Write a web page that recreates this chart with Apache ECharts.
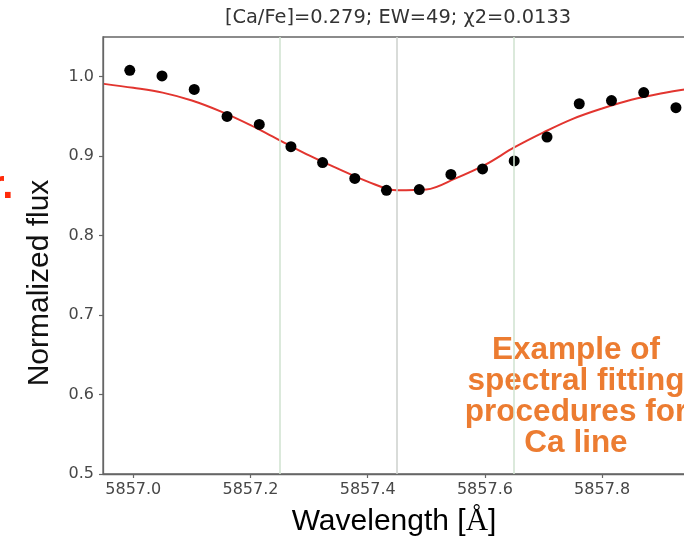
<!DOCTYPE html>
<html>
<head>
<meta charset="utf-8">
<script src="https://cdn.jsdelivr.net/npm/echarts@6/dist/echarts.min.js"></script>
<style>
  html, body { margin: 0; padding: 0; background: #ffffff; overflow: hidden; }
  /* the plot frame runs slightly past the right edge of the page */
  #chart { width: 694px; height: 548px; }
</style>
</head>
<body>
<div id="chart"></div>
<script>
// Observed spectrum around the Ca I 5857.45 Å line
const wavelengths = [
  5856.994, 5857.049, 5857.104, 5857.160, 5857.215, 5857.269,
  5857.323, 5857.378, 5857.432, 5857.488, 5857.542, 5857.596,
  5857.650, 5857.706, 5857.761, 5857.816, 5857.871, 5857.926
];
const observedFlux = [
  1.008, 1.001, 0.984, 0.950, 0.940, 0.912,
  0.892, 0.872, 0.857, 0.858, 0.877, 0.884,
  0.894, 0.924, 0.966, 0.970, 0.980, 0.961
];

// Best-fit synthetic profile
const modelWavelengths = [
  5856.95, 5857.00, 5857.05, 5857.10, 5857.15, 5857.20, 5857.25,
  5857.30, 5857.35, 5857.40, 5857.45, 5857.50, 5857.55, 5857.60,
  5857.65, 5857.70, 5857.75, 5857.80, 5857.85, 5857.90, 5857.95
];
const modelFlux = [
  0.991, 0.986, 0.980, 0.970, 0.956, 0.939, 0.920,
  0.901, 0.884, 0.868, 0.857, 0.858, 0.872, 0.889,
  0.911, 0.930, 0.947, 0.960, 0.971, 0.979, 0.985
];

// Line centre and the fitting window edges
const windowEdges = [5857.25, 5857.65];
const lineCentre = [5857.45];

const xTickValues = [5857.0, 5857.2, 5857.4, 5857.6, 5857.8];
const yTickValues = [0.5, 0.6, 0.7, 0.8, 0.9, 1.0];

const chartTitle = '[Ca/Fe]=0.279; EW=49; \u03c72=0.0133';
const xTitle = 'Wavelength [';
const yTitle = 'Normalized flux';
const noteLines = ['Example of', 'spectral fitting', 'procedures for', 'Ca line'];

const axisGrey = '#666666';
const tickText = '#474747';
const tickFont = 'DejaVu Sans';

const chart = echarts.init(document.getElementById('chart'), null, { renderer: 'canvas' });

const observed = wavelengths.map((w, i) => [w, observedFlux[i]]);
const model = modelWavelengths.map((w, i) => [w, modelFlux[i]]);

const verticalMarks = windowEdges.map(v => ({ xAxis: v, lineStyle: { color: '#d2e4d2' } }))
  .concat(lineCentre.map(v => ({ xAxis: v, lineStyle: { color: '#d0d4d0' } })));

chart.setOption({
  animation: false,
  backgroundColor: '#ffffff',
  grid: {
    left: 103, top: 37, bottom: 74, right: 0,
    show: true, borderColor: axisGrey, borderWidth: 1.3, backgroundColor: 'transparent'
  },
  xAxis: {
    type: 'value',
    min: 5856.9483,
    max: 5857.9568,
    axisLine: { show: true, onZero: false, lineStyle: { color: axisGrey, width: 1.3 } },
    axisTick: { show: true, length: 4, customValues: xTickValues, lineStyle: { color: axisGrey, width: 1.2 } },
    axisLabel: {
      customValues: xTickValues,
      formatter: v => v.toFixed(1),
      color: tickText, fontFamily: tickFont, fontSize: 16, margin: 8
    },
    splitLine: { show: false }
  },
  yAxis: {
    type: 'value',
    min: 0.5,
    max: 1.05,
    axisLine: { show: true, onZero: false, lineStyle: { color: axisGrey, width: 1.3 } },
    axisTick: { show: true, length: 4, customValues: yTickValues, lineStyle: { color: axisGrey, width: 1.2 } },
    axisLabel: {
      customValues: yTickValues,
      formatter: v => v.toFixed(1),
      color: tickText, fontFamily: tickFont, fontSize: 16, margin: 9
    },
    splitLine: { show: false }
  },
  series: [
    {
      name: 'window',
      type: 'line',
      data: [],
      silent: true,
      markLine: {
        silent: true,
        symbol: 'none',
        label: { show: false },
        lineStyle: { type: 'solid', width: 1.6 },
        data: verticalMarks
      }
    },
    {
      name: 'model',
      type: 'line',
      data: model,
      smooth: 0.35,
      showSymbol: false,
      lineStyle: { color: '#e2352f', width: 2 },
      z: 3
    },
    {
      name: 'observed',
      type: 'scatter',
      data: observed,
      symbol: 'circle',
      symbolSize: 11,
      itemStyle: { color: '#000000', opacity: 1 },
      z: 4
    }
  ],
  graphic: [
    {
      type: 'text', x: 398, y: 18,
      style: {
        text: chartTitle, fill: '#333333', font: '19.4px "DejaVu Sans"',
        align: 'center', verticalAlign: 'middle'
      }
    },
    {
      type: 'text', x: 394, y: 522,
      style: {
        text: '{s|' + xTitle + '}{r|\u00c5}{s|]}',
        align: 'center', verticalAlign: 'middle',
        rich: {
          s: { fontFamily: 'Liberation Sans', fontSize: 30, color: '#111111' },
          r: { fontFamily: 'Liberation Serif', fontSize: 31, color: '#111111' }
        }
      }
    },
    {
      type: 'text', x: 40, y: 283, rotation: Math.PI / 2,
      style: {
        text: yTitle, fill: '#111111', font: '30px "Liberation Sans"',
        align: 'center', verticalAlign: 'middle'
      }
    },
    {
      type: 'text', x: 576, y: 397,
      style: {
        text: noteLines.join('\n'), fill: '#ec7c31',
        font: 'bold 31.5px "Liberation Sans"', lineHeight: 31,
        align: 'center', verticalAlign: 'middle'
      }
    },
    {
      type: 'text', x: -11, y: 187,
      style: {
        text: 'r.', fill: '#ff2a0a', font: 'bold 40px "Liberation Sans"',
        align: 'left', verticalAlign: 'middle'
      }
    }
  ]
});
</script>
</body>
</html>
